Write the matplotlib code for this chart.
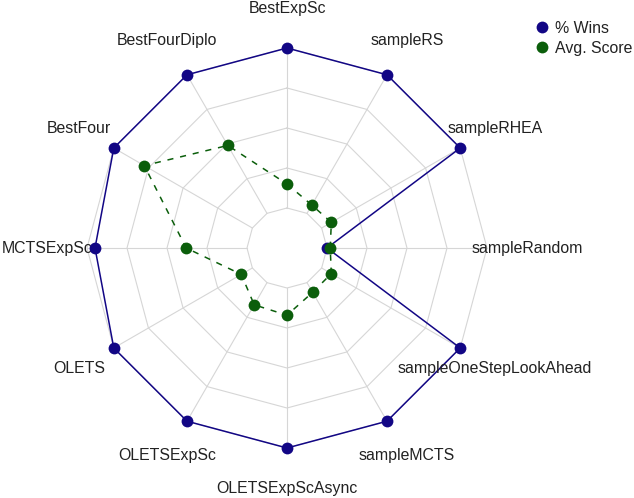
import numpy as np
import matplotlib
matplotlib.use("Agg")
import matplotlib.pyplot as plt
from matplotlib.lines import Line2D

plt.rcParams['font.family'] = ['Liberation Sans', 'DejaVu Sans']

# agents, clockwise from the top
agentes = ['BestExpSc', 'sampleRS', 'sampleRHEA', 'sampleRandom',
           'sampleOneStepLookAhead', 'sampleMCTS', 'OLETSExpScAsync',
           'OLETSExpSc', 'OLETS', 'MCTSExpSc', 'BestFour', 'BestFourDiplo']
# normalised values (0..1)
victorias = [1.0, 1.0, 1.0, 0.0, 1.0, 1.0, 1.0, 1.0, 1.0, 0.95, 1.0, 1.0]
puntaje = [0.15, 0.06, 0.07, 0.02, 0.07, 0.07, 0.17, 0.16, 0.08, 0.38, 0.78, 0.49]
niveles = [0.0, 0.25, 0.5, 0.75, 1.0]

AZUL = '#120685'
VERDE = '#0b5e0b'
GRIS = '#d6d6d6'
HUECO = 0.2  # empty hole in the middle


def radio(v):
    return HUECO + (1 - HUECO) * np.asarray(v)


def a_xy(vals, ang):
    r = radio(vals)
    return r * np.cos(ang), r * np.sin(ang)


n = len(agentes)
ang = np.deg2rad(90 - 360.0 / n * np.arange(n))
ang_c = np.append(ang, ang[0])

fig = plt.figure(figsize=(6.34, 4.98), dpi=100)
ax = fig.add_axes([0, 0, 1, 1])
ax.set_xlim(-287 / 200.0, 347 / 200.0)
ax.set_ylim(-250 / 200.0, 248 / 200.0)
ax.axis('off')

# grid
for lv in niveles:
    x, y = a_xy(np.full(n + 1, lv), ang_c)
    ax.plot(x, y, color=GRIS, lw=0.8, zorder=1)
for a in ang:
    x, y = a_xy([0, 1], np.array([a, a]))
    ax.plot(x, y, color=GRIS, lw=0.8, zorder=1)

# series
x, y = a_xy(np.append(victorias, victorias[0]), ang_c)
ax.plot(x, y, color=AZUL, lw=1.1, zorder=3)
ax.plot(x[:-1], y[:-1], 'o', color=AZUL, ms=8.5, mec='none', zorder=4)

x, y = a_xy(np.append(puntaje, puntaje[0]), ang_c)
ax.plot(x, y, color=VERDE, lw=1.1, dashes=(4, 4.5), zorder=5)
ax.plot(x[:-1], y[:-1], 'o', color=VERDE, ms=8.5, mec='none', zorder=6)

# labels
for nombre, a in zip(agentes, ang):
    ax.text(1.2 * np.cos(a), 1.2 * np.sin(a), nombre, ha='center', va='center',
            fontsize=11.4, color='#222222')

handles = [Line2D([], [], marker='o', ls='none', color=AZUL, ms=8.5, mec='none'),
           Line2D([], [], marker='o', ls='none', color=VERDE, ms=8.5, mec='none')]
fig.legend(handles, ['% Wins', 'Avg. Score'], loc='upper left',
           bbox_to_anchor=(0.843, 0.958), frameon=False, fontsize=11.4,
           handlelength=0.9, handletextpad=0.4, labelspacing=0.3,
           borderpad=0, borderaxespad=0, labelcolor='#222222')

fig.savefig('out.png', dpi=100)
